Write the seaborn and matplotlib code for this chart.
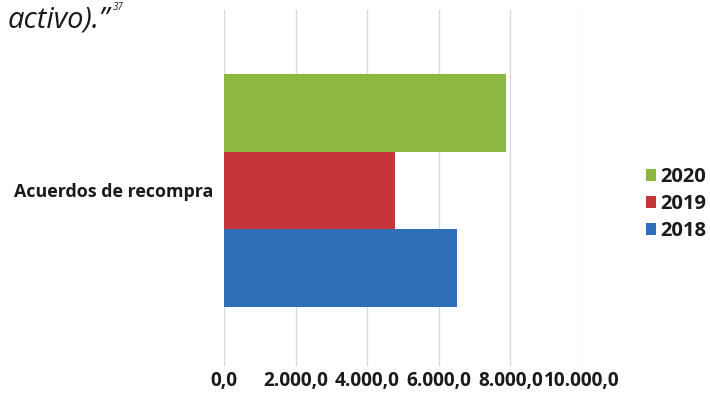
import numpy as np
import pandas as pd
import matplotlib.pyplot as plt
import seaborn as sns

# data
category = ['Acuerdos de recompra']
years = ['2020', '2019', '2018']
values = [7890, 4770, 6510]
colors = ['#8cb841', '#c43638', '#2f6eb8']
xticks = [0, 2000, 4000, 6000, 8000, 10000]
xtick_labels = ['0,0', '2.000,0', '4.000,0', '6.000,0', '8.000,0', '10.000,0']

df = pd.DataFrame({'categoria': category * len(years), 'anio': years, 'valor': values})

sns.set_theme(style='white')
plt.rcParams['font.family'] = ['Open Sans', 'DejaVu Sans']

fig = plt.figure(figsize=(7.1, 3.95), dpi=100)
ax = fig.add_axes([224 / 710, 1 - 366 / 395, (582 - 224) / 710, (366 - 10) / 395])

sns.barplot(data=df, x='valor', y='categoria', hue='anio', hue_order=years,
            palette=colors, orient='h', width=0.654, saturation=1, ax=ax,
            edgecolor='none', linewidth=0)

ax.set_xlim(0, 10000)
ax.set_ylim(0.493, -0.507)
ax.set_xticks(xticks)
ax.set_xticklabels(xtick_labels, fontsize=13.7, fontweight='bold', color='#1a1a1a')
ax.tick_params(axis='x', pad=3.5, length=0)
ax.tick_params(axis='y', pad=8, length=0)
for lbl in ax.get_yticklabels():
    lbl.set_fontsize(12.9)
    lbl.set_fontweight('bold')
    lbl.set_color('#1a1a1a')
ax.set_xlabel('')
ax.set_ylabel('')
ax.grid(axis='x', color='#d9d9d9', linewidth=1)
ax.set_axisbelow(True)
for s in ax.spines.values():
    s.set_visible(False)

leg = ax.legend(loc='center left', bbox_to_anchor=(1.15, 0.455), frameon=False,
                prop={'weight': 'bold', 'size': 14.5}, handlelength=0.5, handleheight=0.5,
                handletextpad=0.2, labelspacing=0.35, borderpad=0)
for t in leg.get_texts():
    t.set_color('#1a1a1a')

# text fragment from the page above the chart
fig.text(8 / 710, 1 - 28 / 395, 'activo).\u201d', fontsize=21, fontstyle='italic',
         color='#1a1a1a', ha='left', va='baseline')
fig.text(113 / 710, 1 - 10 / 395, '37', fontsize=7, fontstyle='italic',
         color='#1a1a1a', ha='left', va='baseline')

fig.savefig('out.png', dpi=100, facecolor='white')
